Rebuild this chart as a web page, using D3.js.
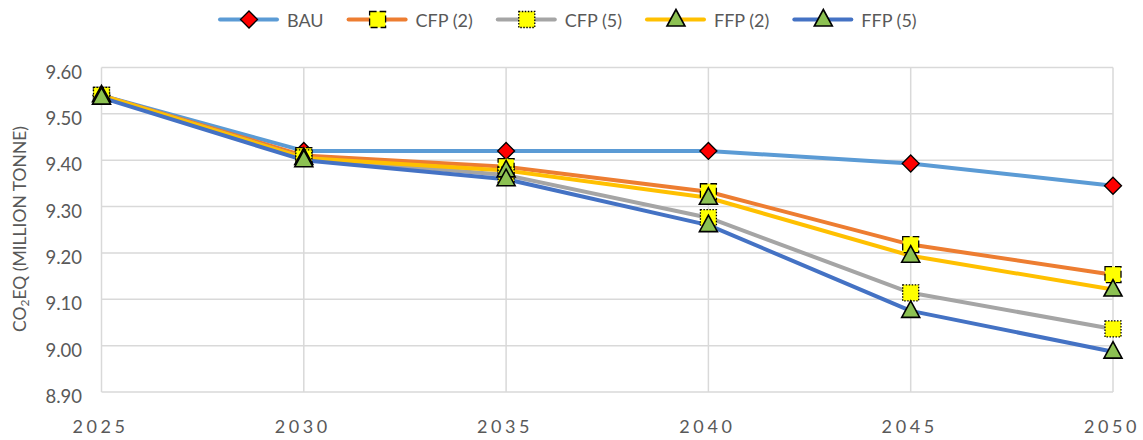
<!DOCTYPE html>
<html>
<head>
<meta charset="utf-8">
<script src="https://cdn.jsdelivr.net/npm/d3@7"></script>
<style>
  body { margin: 0; background: #fff; }
  svg { display: block; font-family: Lato, "Open Sans", sans-serif; }
</style>
</head>
<body>
<svg></svg>
<script>
const width = 1143;
const height = 440;
const svg = d3.select("svg").attr("width", width).attr("height", height);

const years = [2025, 2030, 2035, 2040, 2045, 2050];
const yTicks = [8.90, 9.00, 9.10, 9.20, 9.30, 9.40, 9.50, 9.60];
const seriesNames = ["BAU", "CFP (2)", "CFP (5)", "FFP (2)", "FFP (5)"];
const bau = [9.540, 9.420, 9.420, 9.420, 9.393, 9.345];
const cfp2 = [9.540, 9.410, 9.386, 9.332, 9.218, 9.153];
const cfp5 = [9.540, 9.405, 9.368, 9.276, 9.114, 9.036];
const ffp2 = [9.540, 9.405, 9.378, 9.319, 9.194, 9.121];
const ffp5 = [9.535, 9.400, 9.359, 9.260, 9.075, 8.987];

const seriesValues = [bau, cfp2, cfp5, ffp2, ffp5];
const lineColors = ["#5B9BD5", "#ED7D31", "#A5A5A5", "#FFC000", "#4472C4"];
const markerKinds = ["diamond", "squareDash", "squareDot", "triangle", "triangle"];

const x = d3.scaleLinear().domain([2025, 2050]).range([101.5, 1113]);
const y = d3.scaleLinear().domain([8.90, 9.60]).range([392, 67.5]);

// grid
const grid = svg.append("g");
grid.selectAll("line.h").data(yTicks).join("line")
  .attr("x1", x(2025)).attr("x2", x(2050))
  .attr("y1", d => y(d)).attr("y2", d => y(d))
  .attr("stroke", "#D9D9D9").attr("stroke-width", 1.5);
grid.selectAll("line.v").data(years).join("line")
  .attr("x1", d => x(d)).attr("x2", d => x(d))
  .attr("y1", y(9.60)).attr("y2", y(8.90))
  .attr("stroke", "#D9D9D9").attr("stroke-width", 1.5);

// y tick labels
svg.append("g").selectAll("text").data(yTicks).join("text")
  .attr("x", 82).attr("y", d => y(d) + 11)
  .attr("text-anchor", "end")
  .attr("font-size", 18.5)
  .attr("fill", "#595959")
  .text(d => d.toFixed(2));

// x tick labels (letter-spaced like the original)
svg.append("g").selectAll("text").data(years).join("text")
  .attr("x", d => x(d) - 1).attr("y", 433)
  .attr("text-anchor", "middle")
  .attr("font-size", 18)
  .attr("letter-spacing", 3.6)
  .attr("fill", "#595959")
  .text(d => d);

// y title
const yTitle = svg.append("text")
  .attr("transform", "translate(26, 229) rotate(-90)")
  .attr("text-anchor", "middle")
  .attr("font-size", 17.5)
  .attr("fill", "#595959");
yTitle.append("tspan").text("CO");
yTitle.append("tspan").attr("font-size", 12).attr("dy", 3).text("2");
yTitle.append("tspan").attr("dy", -3).text("EQ (MILLION TONNE)");

const line = d3.line().x((d, i) => x(years[i])).y(d => y(d));

function drawMarker(g, kind, cx, cy) {
  if (kind === "diamond") {
    g.append("path")
      .attr("d", `M${cx},${cy - 8.5}L${cx + 8.5},${cy}L${cx},${cy + 8.5}L${cx - 8.5},${cy}Z`)
      .attr("fill", "#FF0000").attr("stroke", "#000").attr("stroke-width", 1.3);
  } else if (kind === "squareDash" || kind === "squareDot") {
    g.append("rect")
      .attr("x", cx - 8).attr("y", cy - 8).attr("width", 16).attr("height", 16)
      .attr("fill", "#FFFF00").attr("stroke", "#000").attr("stroke-width", 1.3)
      .attr("stroke-dasharray", kind === "squareDash" ? "7,3" : "1.5,1.5");
  } else {
    g.append("path")
      .attr("d", `M${cx},${cy - 10}L${cx + 9},${cy + 6.5}L${cx - 9},${cy + 6.5}Z`)
      .attr("fill", "#8CC152").attr("stroke", "#000").attr("stroke-width", 1.6)
      .attr("stroke-linejoin", "miter");
  }
}

// lines
seriesValues.forEach((vals, s) => {
  svg.append("path")
    .attr("d", line(vals))
    .attr("fill", "none")
    .attr("stroke", lineColors[s])
    .attr("stroke-width", 4)
    .attr("stroke-linejoin", "round");
});

// markers
seriesValues.forEach((vals, s) => {
  const g = svg.append("g");
  vals.forEach((v, i) => drawMarker(g, markerKinds[s], x(years[i]), y(v)));
});

// legend
const legend = svg.append("g");
let lx = 218;
seriesNames.forEach((name, s) => {
  legend.append("line")
    .attr("x1", lx + 2).attr("x2", lx + 59)
    .attr("y1", 19.5).attr("y2", 19.5)
    .attr("stroke", lineColors[s]).attr("stroke-width", 4)
    .attr("stroke-linecap", "round");
  drawMarker(legend, markerKinds[s], lx + 31, 19.5);
  const t = legend.append("text")
    .attr("x", lx + 69).attr("y", 26.5)
    .attr("font-size", 18)
    .attr("fill", "#595959")
    .text(name);
  lx += 69 + t.node().getComputedTextLength() + 23;
});
</script>
</body>
</html>
